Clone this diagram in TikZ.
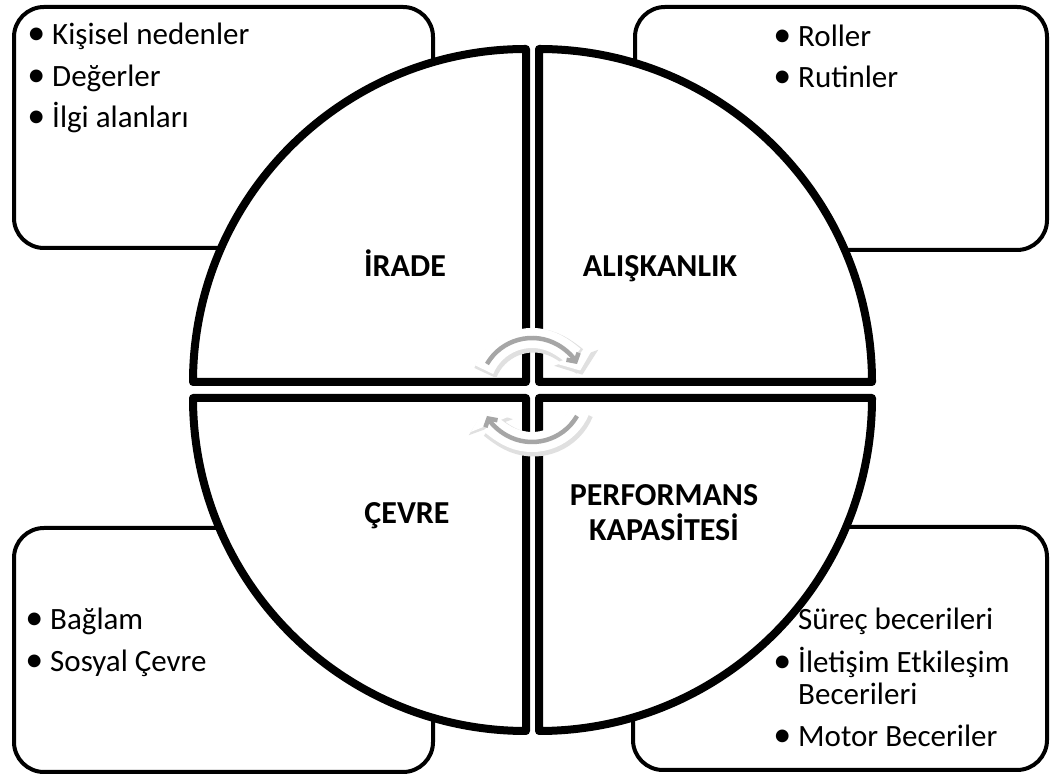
\documentclass[tikz,border=0pt]{standalone}
\usepackage{fontspec}
\setmainfont{Carlito}
\usetikzlibrary{arrows.meta, shadows}

\newcommand{\itembullet}{\llap{{\fontsize{36}{36}\selectfont\textbullet}\hspace{7pt}}}

\tikzset{
    infobox/.style={draw=black, line width=4pt, rounded corners=30pt},
    quarter/.style={draw=black, fill=white, line width=8pt, line join=round,
        drop shadow={shadow xshift=2pt, shadow yshift=-2pt, opacity=0.22}},
    item/.style={anchor=base west, inner sep=0pt, font=\fontsize{31}{37}\selectfont},
    label/.style={inner sep=0pt, align=center, font=\fontsize{32}{35}\selectfont\bfseries},
    turnshade/.style={black!12, line width=24pt, -{Triangle[length=18pt, width=46pt]}},
    turnband/.style={white, line width=20pt, -{Triangle[length=16pt, width=40pt]}},
    turnline/.style={black!35, line width=4.5pt, -{Straight Barb[length=6pt, width=14pt]}}
}

\begin{document}
\begin{tikzpicture}[x=1pt, y=1pt]
        \useasboundingbox (0,0) rectangle (1051,778);

        \draw[infobox] (14,530) rectangle (433,771);
        \draw[infobox] (635,528) rectangle (1047,771);
        \draw[infobox] (14,6) rectangle (433,250);
        \draw[infobox] (633,8) rectangle (1047,251);

        \draw[quarter] (526,396) -- (193,396) arc (180:90:333) -- cycle;
        \draw[quarter] (539,396) -- (539,729) arc (90:0:333) -- cycle;
        \draw[quarter] (526,380) -- (193,380) arc (180:270:333) -- cycle;
        \draw[quarter] (539,380) -- (872,380) arc (0:-90:333) -- cycle;

        % turning arrows in the middle
        \coordinate (mid) at (532,388);
        \coordinate (midshade) at (533.5,385.5);
        \draw[turnshade] ([shift={(158:52)}]midshade) arc (158:20:52);
        \draw[turnshade] ([shift={(-22:52)}]midshade) arc (-22:-160:52);
        \draw[turnband] ([shift={(157:52)}]mid) arc (157:22:52);
        \draw[turnband] ([shift={(-23:52)}]mid) arc (-23:-158:52);
        \draw[turnline] ([shift={(150:52)}]mid) arc (150:30:52);
        \draw[turnline] ([shift={(-30:52)}]mid) arc (-30:-150:52);

        \node[label, anchor=base] (irade) at (405,501) {İRADE};
        \node[label, anchor=base] (aliskanlik) at (660,501) {ALIŞKANLIK};
        \node[label, anchor=base] (cevre) at (407,254) {ÇEVRE};
        \node[label] (performans) at (664,265) {PERFORMANS\\KAPASİTESİ};

        \node[item] (kisisel) at (52,733) {\itembullet Kişisel nedenler};
        \node[item] (degerler) at (52,691) {\itembullet Değerler};
        \node[item] (ilgi) at (52,650) {\itembullet İlgi alanları};

        \node[item] (roller) at (798,731) {\itembullet Roller};
        \node[item] (rutinler) at (798,690) {\itembullet Rutinler};

        \node[item] (baglam) at (50,148) {\itembullet Bağlam};
        \node[item] (sosyal) at (50,106) {\itembullet Sosyal Çevre};

        \node[item] (surec) at (798,148) {Süreç becerileri};
        \node[item] (iletisim) at (798,105) {\itembullet İletişim Etkileşim};
        \node[item] (becerileri) at (798,73) {Becerileri};
        \node[item] (motor) at (798,31) {\itembullet Motor Beceriler};
\end{tikzpicture}
\end{document}
